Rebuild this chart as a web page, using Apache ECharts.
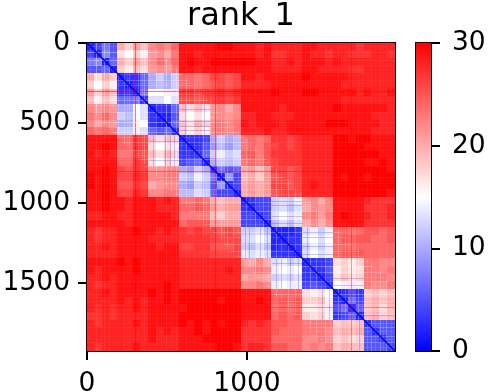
<!DOCTYPE html>
<html>
<head>
<meta charset="utf-8">
<style>html,body{margin:0;padding:0;background:#fff}#main{width:490px;height:392px}</style>
<script src="https://cdn.jsdelivr.net/npm/echarts@6/dist/echarts.min.js"></script>
</head>
<body>
<div id="main"></div>
<script>
var matrixSize = 1925;
var xTicks = [0, 1000];
var yTicks = [0, 500, 1000, 1500];
var barTicks = [0, 10, 20, 30];
var diagonal = [[0, 0], [1925, 1925]];
var barRange = [[0, 0, 1, 30]];
// rows/columns that stand out in the picture: position, and how much they lift (+ redder, - paler)
var stripeAt = [20, 54, 85, 108, 137, 165, 195, 231, 250, 262, 300, 320, 345, 356, 385, 433, 460, 495, 527, 554, 590, 616, 640, 668, 700, 725, 745, 767, 800, 835, 855, 877, 912, 945, 996, 1020, 1048, 1075, 1100, 1130, 1183, 1215, 1256, 1298, 1330, 1360, 1392, 1433, 1460, 1485, 1520, 1569, 1590, 1610, 1652, 1694, 1720, 1750, 1777, 1800, 1829, 1850, 1871, 1900];
var stripeLift = [-0.1, -0.4, -0.12, -0.35, -0.2, -0.1, -0.15, -0.25, -0.12, -0.2, 0.55, -0.2, -0.12, -0.3, -0.12, -0.25, -0.12, -0.4, -0.2, -0.3, -0.12, -0.25, -0.12, -0.2, -0.12, -0.3, -0.12, -0.25, 0.45, -0.3, -0.12, -0.25, -0.2, -0.12, -0.25, -0.12, -0.3, -0.12, -0.25, -0.12, -0.3, -0.15, -0.25, -0.2, -0.12, -0.15, -0.3, -0.25, -0.12, -0.25, -0.12, -0.3, -0.12, -0.25, 0.4, -0.3, -0.12, -0.15, -0.25, -0.12, -0.25, -0.12, -0.25, -0.12];
// short bluish runs in the pale blocks next to the diagonal
var blueAt = [410, 487, 519, 545, 610, 730, 985, 1015, 1080, 1125, 1180, 1210, 1267, 1320, 1375, 1470, 1510, 1700];
var blueFrom = [578, 578, 578, 578, 385, 385, 1155, 1155, 1155, 1155, 1347, 1347, 1347, 1347, 1155, 1540, 1540, 1732];
var blueTo = [770, 770, 770, 770, 578, 578, 1347, 1347, 1347, 1347, 1540, 1540, 1540, 1540, 1347, 1732, 1732, 1925];
var upperRows = [
  [2,4,7,5, 20,18,21,19, 22,23,22,24, 29,29,29,29, 29,30,30,29, 29,29,28,29, 28,28,28,28, 29,29,28,28, 28,28,28,27, 28,28,28,28],
  [2,8,5, 17,15,18,16, 21,22,20,23, 29,29,28,29, 29,29,29,29, 29,29,28,29, 27,27,28,28, 29,28,28,27, 28,28,27,27, 27,28,28,27],
  [2,6, 20,18,21,19, 22,24,22,24, 29,30,29,29, 30,30,30,30, 30,30,29,29, 28,28,29,28, 29,29,29,28, 29,28,28,28, 28,28,28,28],
  [2, 18,16,19,17, 21,22,21,23, 29,29,28,29, 29,29,29,29, 29,29,29,29, 28,28,28,28, 29,29,28,28, 28,28,27,27, 28,28,28,28],
  [2,3,3,6, 10,12,10,12, 24,24,23,24, 26,26,25,26, 29,29,28,29, 29,29,29,29, 30,29,29,29, 29,29,28,28, 28,28,28,28],
  [2,3,6, 10,11,10,12, 24,24,23,24, 25,26,25,26, 28,28,28,28, 29,29,29,29, 29,29,29,29, 29,28,28,28, 28,28,28,28],
  [2,7, 15,15,16,14, 27,27,26,27, 27,28,27,28, 29,29,29,29, 30,29,29,29, 30,30,29,29, 29,29,29,28, 29,28,28,29],
  [3, 13,13,15,13, 26,26,25,26, 26,27,26,27, 29,29,29,29, 29,29,29,29, 29,29,29,29, 29,28,28,28, 28,28,28,28],
  [2,3,3,6, 19,17,19,17, 21,22,20,22, 29,29,29,29, 29,28,29,29, 29,29,29,29, 30,29,29,29, 29,29,29,28],
  [2,2,5, 17,15,17,15, 21,22,21,22, 28,28,29,29, 28,28,28,29, 29,29,29,29, 29,29,29,29, 29,28,28,28],
  [2,6, 19,17,20,18, 22,23,22,23, 29,28,29,29, 29,28,29,29, 29,29,29,30, 30,30,29,29, 29,29,28,28],
  [3, 18,16,18,16, 22,23,22,23, 28,28,28,29, 28,28,29,29, 29,29,29,29, 29,29,29,29, 29,28,28,28],
  [2,3,3,4, 10,12,10,11, 23,24,23,24, 27,27,26,27, 28,28,28,28, 30,30,29,30, 30,29,29,29],
  [2,3,5, 9,11,9,11, 23,24,23,25, 26,27,26,27, 28,28,28,28, 30,30,30,30, 29,29,29,29],
  [3,6, 12,14,12,13, 24,25,23,25, 27,27,27,27, 28,28,28,28, 30,30,30,30, 30,30,29,29],
  [2, 10,12,11,12, 23,24,23,25, 26,27,27,27, 28,28,28,28, 30,30,30,30, 29,29,30,29],
  [3,7,5,6, 20,21,19,21, 26,26,25,26, 28,28,28,28, 30,30,30,30, 30,30,30,29],
  [2,9,4, 19,20,18,21, 25,26,25,26, 28,28,28,28, 30,29,30,30, 29,30,30,30],
  [3,4, 20,21,20,21, 26,26,25,26, 28,29,28,28, 30,30,30,30, 30,30,30,30],
  [2, 20,21,20,21, 25,26,26,26, 28,28,28,28, 30,30,30,30, 30,30,30,29],
  [2,3,4,4, 12,13,12,14, 21,22,20,22, 29,29,29,29, 28,27,27,27],
  [2,4,4, 12,13,11,13, 20,22,21,22, 29,29,29,29, 27,27,27,28],
  [3,4, 13,15,13,14, 22,23,21,23, 29,30,29,29, 28,27,27,28],
  [2, 11,13,11,13, 20,22,20,22, 29,29,29,29, 27,27,27,27],
  [2,2,2,3, 13,14,12,14, 24,24,23,24, 25,25,24,25],
  [2,3,3, 14,15,13,15, 24,25,24,25, 25,24,24,25],
  [2,3, 12,14,12,14, 24,24,23,24, 24,24,24,24],
  [2, 13,15,13,14, 24,25,24,25, 24,24,24,24],
  [2,3,3,4, 17,18,16,18, 23,23,22,22],
  [3,3,5, 16,18,16,17, 23,23,22,23],
  [2,4, 17,19,17,18, 23,23,23,22],
  [3, 15,16,14,16, 23,22,22,23],
  [2,3,5,3, 18,19,18,19],
  [2,7,4, 19,20,19,20],
  [3,6, 18,19,17,19],
  [2, 19,20,18,19],
  [3,5,5,5],
  [3,5,5],
  [3,5],
  [4]
];

var cellSpan = matrixSize / upperRows.length;
var nearReach = 400;
var cells = [];
upperRows.forEach(function (row, i) {
  row.forEach(function (v, k) {
    var j = i + k;
    cells.push([j * cellSpan, i * cellSpan, v]);
    if (j !== i) cells.push([i * cellSpan, j * cellSpan, v]);
  });
});
var stripes = stripeAt.map(function (s, i) {
  return [s, stripeLift[i]];
});
var blueRuns = blueAt.map(function (s, i) {
  return [s, blueFrom[i], blueTo[i]];
});

var fontName = '"DejaVu Sans"';
var labelStyle = { show: true, color: '#000', fontFamily: fontName, fontSize: 26.5, formatter: function (v) { return String(v); } };
var lineBlack = { color: '#000', width: 2 };

function tickAxis(ticks, extra, margin) {
  var axis = {
    type: 'value', min: 0, max: matrixSize, splitLine: { show: false },
    axisLine: { show: true, onZero: false, lineStyle: lineBlack },
    axisTick: { show: true, length: 9, lineStyle: lineBlack, customValues: ticks },
    axisLabel: Object.assign({}, labelStyle, { margin: margin, customValues: ticks })
  };
  return Object.assign(axis, extra);
}
function frameAxis(pos, grid, max) {
  return {
    type: 'value', gridIndex: grid, position: pos, min: 0, max: max,
    axisLine: { show: true, onZero: false, lineStyle: lineBlack },
    axisTick: { show: false }, axisLabel: { show: false }, splitLine: { show: false }
  };
}
// one thin rect along a column and its mirror along a row
function crossRects(api, pos, from, to, fill) {
  var a = api.coord([pos, from]), b = api.coord([pos, to]);
  var c = api.coord([from, pos]), d = api.coord([to, pos]);
  return [
    { type: 'rect', shape: { x: Math.round(a[0]), y: a[1], width: 1, height: b[1] - a[1] }, style: { fill: fill } },
    { type: 'rect', shape: { x: c[0], y: Math.round(c[1]), width: d[0] - c[0], height: 1 }, style: { fill: fill } }
  ];
}

var chart = echarts.init(document.getElementById('main'), null, { renderer: 'canvas' });
chart.setOption({
  animation: false,
  backgroundColor: '#fff',
  title: {
    text: 'rank_1', left: 236, top: -4, textAlign: 'center',
    textStyle: { fontFamily: fontName, fontSize: 32, fontWeight: 'normal', color: '#000' }
  },
  grid: [
    { left: 87, top: 43, width: 308, height: 308, outerBoundsMode: 'none' },
    { left: 416, top: 43, width: 15, height: 308, outerBoundsMode: 'none' }
  ],
  xAxis: [
    tickAxis(xTicks, { position: 'bottom' }, 20),
    frameAxis('top', 0, matrixSize),
    frameAxis('bottom', 1, 1),
    frameAxis('top', 1, 1)
  ],
  yAxis: [
    tickAxis(yTicks, { position: 'left', inverse: true }, 17),
    frameAxis('right', 0, matrixSize),
    frameAxis('left', 1, 30),
    {
      type: 'value', gridIndex: 1, position: 'right', min: 0, max: 30, interval: 10,
      splitLine: { show: false },
      axisLine: { show: true, onZero: false, lineStyle: lineBlack },
      axisTick: { show: true, length: 9, lineStyle: lineBlack },
      axisLabel: Object.assign({}, labelStyle, { margin: 21 })
    }
  ],
  visualMap: {
    show: false, seriesIndex: 0, dimension: 2, min: 0, max: 30,
    inRange: { color: ['#0000ff', '#ffffff', '#ff0000'] }
  },
  series: [
    {
      type: 'custom', xAxisIndex: 0, yAxisIndex: 0, data: cells, progressive: 0,
      encode: { x: 0, y: 1 },
      renderItem: function (params, api) {
        var a = api.coord([api.value(0), api.value(1)]);
        var b = api.coord([api.value(0) + cellSpan, api.value(1) + cellSpan]);
        return {
          type: 'rect',
          shape: { x: Math.floor(a[0]), y: Math.floor(a[1]), width: Math.ceil(b[0] - a[0]) + 1, height: Math.ceil(b[1] - a[1]) + 1 },
          style: { fill: api.visual('color') }
        };
      },
      clip: true
    },
    {
      // faint over the whole matrix, full strength only near the diagonal
      type: 'custom', xAxisIndex: 0, yAxisIndex: 0, data: stripes, progressive: 0,
      encode: { x: 0 },
      renderItem: function (params, api) {
        var s = api.value(0), lift = api.value(1);
        if (lift > 0) {
          return { type: 'group', children: crossRects(api, s, 0, matrixSize, 'rgba(255,0,0,' + lift + ')') };
        }
        var far = 'rgba(255,255,255,' + (-lift * 0.2) + ')';
        var near = 'rgba(255,255,255,' + (-lift * 0.85) + ')';
        return {
          type: 'group',
          children: crossRects(api, s, 0, matrixSize, far).concat(
            crossRects(api, s, Math.max(0, s - nearReach), Math.min(matrixSize, s + nearReach), near))
        };
      },
      clip: true
    },
    {
      type: 'custom', xAxisIndex: 0, yAxisIndex: 0, data: blueRuns, progressive: 0,
      encode: { x: 0 },
      renderItem: function (params, api) {
        return { type: 'group', children: crossRects(api, api.value(0), api.value(1), api.value(2), 'rgba(70,70,255,0.3)') };
      },
      clip: true
    },
    {
      type: 'line', xAxisIndex: 0, yAxisIndex: 0, data: diagonal, symbol: 'none',
      lineStyle: { color: '#0000ff', width: 1.5 }, silent: true
    },
    {
      type: 'custom', xAxisIndex: 2, yAxisIndex: 3, data: barRange, progressive: 0,
      encode: { x: [0, 2], y: [1, 3] },
      renderItem: function (params, api) {
        var a = api.coord([api.value(0), api.value(3)]);
        var b = api.coord([api.value(2), api.value(1)]);
        return {
          type: 'rect',
          shape: { x: a[0], y: a[1], width: b[0] - a[0], height: b[1] - a[1] },
          style: {
            fill: new echarts.graphic.LinearGradient(0, 0, 0, 1, [
              { offset: 0, color: '#ff0000' }, { offset: 0.5, color: '#ffffff' }, { offset: 1, color: '#0000ff' }
            ])
          }
        };
      }
    }
  ]
});
</script>
</body>
</html>
